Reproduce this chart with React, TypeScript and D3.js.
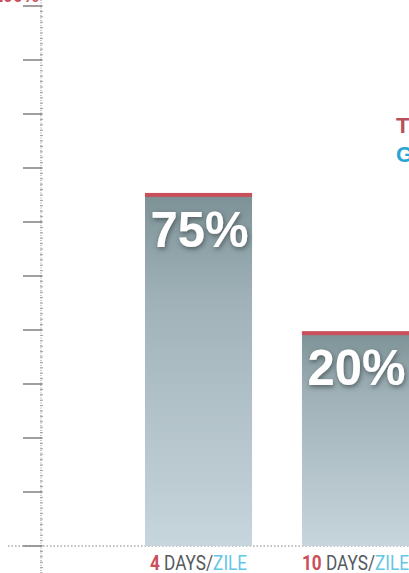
import React, { useEffect, useRef } from 'react';
import * as d3 from 'd3';

// categories under the bars
const dayNumbers = ['4', '10'];
// bar heights (0-100 scale)
const barValues = [65.2, 39.6];
// percent labels printed on the bars
const barLabels = ['75%', '20%'];
// major tick values on the left axis
const axisTicks = [0, 10, 20, 30, 40, 50, 60, 70, 80, 90, 100];

const W = 409;
const H = 573;

export default function App() {
  const svgRef = useRef<SVGSVGElement>(null);

  useEffect(() => {
    if (!svgRef.current) return;
    document.body.style.margin = '0';
    const svg = d3.select(svgRef.current);
    svg.selectAll('*').remove();

    const axisX = 41;
    const baseY = 546;

    const x = d3.scaleBand<string>()
      .domain(dayNumbers)
      .range([145, 409])
      .paddingInner(0.318)
      .paddingOuter(0);

    const y = d3.scaleLinear().domain([0, 100]).range([baseY, 6]);

    svg.append('rect').attr('width', W).attr('height', H).attr('fill', '#ffffff');

    const defs = svg.append('defs');
    const grad = defs.append('linearGradient')
      .attr('id', 'barGrad')
      .attr('x1', 0).attr('y1', 0).attr('x2', 0).attr('y2', 1);
    grad.append('stop').attr('offset', '0%').attr('stop-color', '#7d9296');
    grad.append('stop').attr('offset', '30%').attr('stop-color', '#a0b2b8');
    grad.append('stop').attr('offset', '100%').attr('stop-color', '#c7d5dc');

    const shadow = defs.append('filter').attr('id', 'txtShadow')
      .attr('x', '-20%').attr('y', '-20%').attr('width', '140%').attr('height', '140%');
    shadow.append('feDropShadow')
      .attr('dx', 1).attr('dy', 2).attr('stdDeviation', 2.5)
      .attr('flood-color', '#3c4a4e').attr('flood-opacity', 0.8);

    // top label, cut off by the page edge
    svg.append('text')
      .attr('x', axisX - 2)
      .attr('y', 2)
      .attr('text-anchor', 'end')
      .attr('font-family', 'Liberation Sans, Arial, sans-serif')
      .attr('font-weight', 'bold')
      .attr('font-size', 18)
      .attr('fill', '#c9505a')
      .text('100%');

    // dotted baseline
    svg.append('line')
      .attr('x1', 8).attr('x2', W)
      .attr('y1', baseY).attr('y2', baseY)
      .attr('stroke', '#808080')
      .attr('stroke-width', 1.2)
      .attr('stroke-dasharray', '1.5,2');

    // dotted axis line
    svg.append('line')
      .attr('x1', axisX).attr('x2', axisX)
      .attr('y1', 0).attr('y2', H)
      .attr('stroke', '#909090')
      .attr('stroke-width', 1)
      .attr('stroke-dasharray', '1,1.5');

    // minor ticks
    const minor = d3.range(-10, 101, 1);
    svg.append('g').selectAll('line')
      .data(minor)
      .enter().append('line')
      .attr('x1', axisX - 1).attr('x2', axisX + 2)
      .attr('y1', d => y(d)).attr('y2', d => y(d))
      .attr('stroke', '#a0a0a0')
      .attr('stroke-width', 1);

    // major ticks
    svg.append('g').selectAll('line')
      .data(axisTicks)
      .enter().append('line')
      .attr('x1', axisX - 18).attr('x2', axisX + 1)
      .attr('y1', d => y(d)).attr('y2', d => y(d))
      .attr('stroke', '#888888')
      .attr('stroke-width', 1.6);

    // bars
    const bars = svg.append('g').selectAll('g')
      .data(dayNumbers)
      .enter().append('g');

    bars.append('rect')
      .attr('x', d => x(d)!)
      .attr('y', (d, i) => y(barValues[i]))
      .attr('width', x.bandwidth())
      .attr('height', (d, i) => baseY - y(barValues[i]))
      .attr('fill', 'url(#barGrad)');

    bars.append('rect')
      .attr('x', d => x(d)!)
      .attr('y', (d, i) => y(barValues[i]) - 1)
      .attr('width', x.bandwidth())
      .attr('height', 4)
      .attr('fill', '#c9505a');

    bars.append('text')
      .attr('x', d => x(d)! + x.bandwidth() / 2 + 1)
      .attr('y', (d, i) => y(barValues[i]) + 53)
      .attr('text-anchor', 'middle')
      .attr('font-family', 'Liberation Sans, Arial, sans-serif')
      .attr('font-weight', 'bold')
      .attr('font-size', 50)
      .attr('textLength', 98)
      .attr('lengthAdjust', 'spacingAndGlyphs')
      .attr('fill', '#ffffff')
      .attr('filter', 'url(#txtShadow)')
      .text((d, i) => barLabels[i]);

    // category labels (condensed by a horizontal scale)
    const cat = svg.append('g').selectAll('text')
      .data(dayNumbers)
      .enter().append('text')
      .attr('transform', d => `translate(${x(d)! + x.bandwidth() / 2},570) scale(0.86,1)`)
      .attr('text-anchor', 'middle')
      .attr('font-family', 'Roboto, Liberation Sans, sans-serif')
      .attr('font-size', 20);
    cat.append('tspan').attr('fill', '#c9505a').attr('font-weight', 'bold').text(d => d + ' ');
    cat.append('tspan').attr('fill', '#555a5e').text('DAYS/');
    cat.append('tspan').attr('fill', '#62c6e6').text('ZILE');

    // legend letters at the right edge (cut off)
    svg.append('text')
      .attr('x', 396).attr('y', 133)
      .attr('font-family', 'Liberation Sans, Arial, sans-serif')
      .attr('font-weight', 'bold')
      .attr('font-size', 22)
      .attr('fill', '#b8505a')
      .text('T');
    svg.append('text')
      .attr('x', 396).attr('y', 162)
      .attr('font-family', 'Liberation Sans, Arial, sans-serif')
      .attr('font-weight', 'bold')
      .attr('font-size', 22)
      .attr('fill', '#2aa6d4')
      .text('G');
  }, []);

  return (
    <svg
      ref={svgRef}
      width={W}
      height={H}
      style={{ position: 'absolute', left: 0, top: 0, display: 'block' }}
    />
  );
}
